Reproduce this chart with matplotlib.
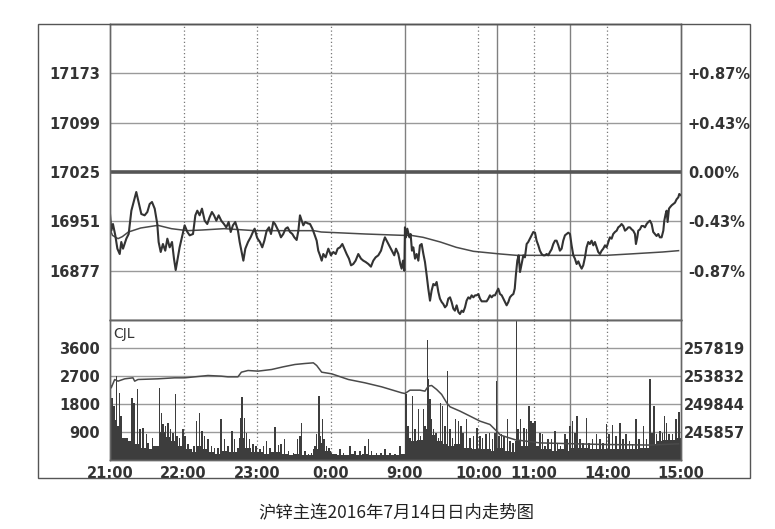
import numpy as np
import matplotlib.pyplot as plt
from matplotlib.patches import Rectangle

# time axis in trading minutes: night 21:00-01:00 (0-240), day 9:00-15:00 (240-465)
tick_pos = [0, 60, 120, 180, 240, 300, 345, 405, 465]
tick_labels = ["21:00", "22:00", "23:00", "0:00", "9:00", "10:00", "11:00", "14:00", "15:00"]
dotted_x = [60, 120, 180, 300, 345, 405]
solid_x = [240, 315, 375]

prev_close = 17025
price_ticks = [16877, 16951, 17025, 17099, 17173]
pct_labels = ["-0.87%", "-0.43%", "0.00%", "+0.43%", "+0.87%"]

# price line (minute, price)
price_min = [0, 1.1, 2.4, 4.3, 6.0, 7.9, 9.2, 10.6, 13.3, 15.2, 17.4, 19.5, 21.4, 23.3, 25.5,
             28.2, 30.4, 32.3, 34.2, 36.4, 38.5, 39.6, 41.3, 43.1, 45.0, 46.7, 48.6, 50.5, 52.1,
             53.5, 54.8, 56.7, 58.6, 60.8, 63.0, 64.9, 67.6, 69.5, 71.1, 73.0, 74.9, 77.1, 79.2,
             81.1, 83.0, 84.7, 86.6, 88.5, 90.6, 92.8, 94.7, 96.6, 98.3, 100.1, 102.0, 104.2,
             105.6, 107.5, 108.6, 110.2, 112.4, 114.5, 116.4, 117.8, 119.7,
             120.2, 122.1, 124.0, 125.7, 127.6, 129.5, 131.1, 133.0, 134.4, 135.7, 137.6, 139.2,
             141.1, 143.0, 144.7, 146.6, 148.5, 150.1, 152.0, 153.4, 154.7, 156.1, 157.4, 159.0,
             161.0, 162.9, 164.8, 166.4, 168.3, 169.6, 171.0, 172.4, 173.7, 175.6, 177.8, 179.9,
             181.9, 183.8, 185.4, 187.3, 189.2, 190.8, 192.7, 194.6, 196.3, 198.1, 200.0, 202.2,
             204.4, 206.3, 208.2, 210.4, 212.5, 214.4, 216.3, 218.5, 220.7, 222.6, 223.9, 225.3,
             227.2, 229.4, 231.5, 232.9, 234.8, 236.4, 237.5, 238.6, 239.7,
             240.2, 241.0, 242.1, 243.8, 244.8, 245.9, 247.0, 248.4, 249.7, 251.1, 252.4, 253.8,
             255.2, 256.5, 257.9, 259.2, 260.6, 261.9, 263.3, 264.7, 266.0, 267.4, 268.7, 270.1,
             271.4, 272.8, 274.2, 275.5, 276.9, 278.2, 279.6, 280.9, 282.3, 283.7, 285.0, 286.4,
             287.7, 289.1, 290.4, 291.8, 293.2, 294.5, 295.9, 297.3, 298.6, 300.0, 301.3, 302.7,
             304.0, 305.4, 306.7, 308.1, 309.4, 310.8, 312.2, 313.5, 314.9, 316.2, 317.6, 319.0,
             320.3, 321.7, 323.0, 324.4, 325.7, 327.1, 328.5, 329.6, 330.6, 331.7, 332.8, 333.9,
             335.2, 336.6, 337.9, 339.3, 340.6, 342.0, 343.4, 344.7, 346.1, 347.4, 348.8, 350.1,
             351.5, 352.9, 354.2, 355.6, 356.9, 358.3, 359.6, 361.0, 362.4, 363.7, 365.1, 366.4,
             367.8, 369.1, 370.5, 371.8, 373.2, 374.6, 375.9, 377.3, 378.6, 380.0, 381.4, 382.7,
             384.1, 385.4, 386.8, 388.1, 389.5, 390.8, 392.2, 393.6, 394.9, 396.3, 397.6, 399.0,
             400.4, 401.7, 403.1, 404.4, 405.8, 407.1, 408.5, 409.8, 411.2, 412.6, 413.9, 415.3,
             416.6, 418.0, 419.4, 420.7, 422.1, 423.4, 424.8, 426.1, 427.5, 428.3, 429.4, 430.2,
             431.6, 432.9, 434.3, 435.6, 437.0, 438.4, 439.7, 441.1, 442.4, 443.8, 445.1, 446.5,
             447.8, 449.2, 450.6, 451.4, 452.5, 453.3, 454.1, 455.2, 456.0, 457.4, 458.7, 460.1,
             461.4, 462.8, 463.6, 465.0]
price_val = [16962, 16937, 16947, 16930, 16910, 16902, 16920, 16910, 16925, 16932, 16967, 16982,
             16995, 16980, 16962, 16960, 16965, 16977, 16980, 16970, 16947, 16920, 16905, 16917,
             16907, 16925, 16912, 16920, 16895, 16878, 16892, 16912, 16927, 16945, 16935, 16930,
             16932, 16960, 16967, 16960, 16970, 16952, 16947, 16957, 16965, 16960, 16952, 16960,
             16952, 16947, 16942, 16950, 16935, 16945, 16950, 16937, 16920, 16902, 16892, 16910,
             16920, 16927, 16935, 16940, 16927,
             16925, 16920, 16912, 16922, 16937, 16942, 16932, 16950, 16947, 16942, 16935, 16927,
             16932, 16940, 16942, 16935, 16932, 16927, 16923, 16937, 16960, 16952, 16945, 16950,
             16948, 16947, 16940, 16932, 16922, 16907, 16900, 16892, 16902, 16897, 16910, 16900,
             16905, 16902, 16910, 16912, 16917, 16910, 16902, 16895, 16885, 16887, 16892, 16902,
             16895, 16892, 16890, 16887, 16883, 16892, 16897, 16900, 16907, 16920, 16927, 16922,
             16915, 16907, 16900, 16910, 16902, 16887, 16880, 16892, 16877,
             16942, 16927, 16940, 16927, 16932, 16907, 16912, 16895, 16902, 16892, 16915, 16917,
             16902, 16890, 16870, 16850, 16832, 16847, 16857, 16855, 16860, 16845, 16835, 16830,
             16827, 16822, 16825, 16835, 16837, 16830, 16820, 16817, 16825, 16815, 16812, 16817,
             16815, 16822, 16832, 16837, 16835, 16840, 16837, 16840, 16840, 16842, 16835, 16831,
             16831, 16831, 16831, 16835, 16840, 16837, 16840, 16840, 16845, 16850, 16842, 16840,
             16835, 16830, 16825, 16830, 16837, 16840, 16842, 16850, 16872, 16892, 16900, 16875,
             16887, 16900, 16897, 16917, 16920, 16925, 16930, 16935, 16934, 16922, 16915, 16907,
             16902, 16900, 16900, 16902, 16900, 16905, 16909, 16917, 16922, 16922, 16915, 16907,
             16910, 16922, 16930, 16932, 16934, 16932, 16915, 16900, 16895, 16887, 16891, 16885,
             16880, 16885, 16897, 16912, 16920, 16917, 16922, 16915, 16920, 16912, 16905, 16902,
             16907, 16910, 16915, 16912, 16920, 16927, 16925, 16932, 16935, 16937, 16942, 16944,
             16947, 16944, 16937, 16939, 16942, 16942, 16939, 16937, 16932, 16917, 16927, 16937,
             16939, 16944, 16944, 16942, 16947, 16950, 16952, 16947, 16935, 16932, 16929, 16932,
             16927, 16927, 16937, 16952, 16962, 16967, 16950, 16970, 16972, 16975, 16977, 16979,
             16984, 16987, 16992, 16990]

# average price line
avg_min = [0.5, 2, 6.5, 10, 15, 25, 39, 50, 63, 75, 93, 118, 150, 166, 172, 208, 238, 245,
           255, 269, 282, 296, 318, 331, 350, 404, 423, 450, 463]
avg_val = [16937, 16930, 16925, 16928, 16935, 16941, 16945, 16940, 16937, 16938, 16940, 16937,
           16937, 16937, 16935, 16932, 16930, 16930, 16927, 16920, 16912, 16906, 16902, 16900,
           16900, 16900, 16902, 16905, 16907]

# volume: 5-minute floor level of the dense bars
base_vol = [1300, 1100, 700, 600, 500, 400, 350, 450, 900, 750, 600, 450,
            350, 250, 450, 350, 250, 200, 300, 250, 250, 700, 400, 250,
            250, 200, 250, 250, 200, 150, 200, 150, 150, 350, 550, 300,
            200, 150, 150, 200, 150, 200, 150, 150, 150, 150, 150, 200,
            700, 600, 650, 1000, 800, 600, 500, 450, 500, 400, 400, 350,
            350, 350, 300, 400, 300, 250, 600, 450, 500, 450, 350, 350,
            300, 350, 300, 400, 400, 400, 350, 350, 350, 350, 350, 350,
            350, 350, 400, 400, 500, 600, 650, 650, 700]

# volume: individual bars (minute, volume)
bar_min = [0.5, 1.6, 3.3, 5.2, 7.9, 9.2, 17.9, 19.5, 22.3, 24.2, 26.9, 29.6, 31.0, 34.5, 40.4,
           41.8, 43.2, 45.1, 47.2, 49.4, 51.3, 53.2, 54.8, 56.7, 59.4, 61.3, 63.5, 66.2, 68.4,
           70.3, 73.0, 74.9, 77.1, 79.8, 82.5, 85.2, 87.9, 90.6, 93.4, 96.1, 99.3, 101.5, 104.2,
           106.4, 107.7, 109.6, 111.0, 113.7, 116.4, 119.1,
           122.2, 124.9, 127.6, 130.3, 134.4, 137.1, 139.3, 142.0, 145.2, 149.3, 152.8, 154.7,
           156.1, 158.8, 161.5, 164.2, 166.9, 168.3, 170.2, 171.5, 172.9, 174.5, 176.4, 178.3,
           180.5, 183.2, 187.3, 190.0, 195.4, 199.5, 203.6, 207.6, 210.4, 213.1, 217.1, 220.7,
           223.9, 228.0, 232.1, 236.1, 238.3,
           241.0, 242.9, 246.5, 248.4, 251.1, 253.0, 255.2, 256.5, 258.4, 259.5, 260.6, 261.9,
           263.3, 265.5, 267.4, 269.3, 270.9, 272.8, 275.0, 276.9, 279.0, 281.5, 283.7, 285.6,
           287.7, 290.4, 293.2, 295.9, 299.1, 301.3, 303.5, 306.2, 308.9, 311.6, 313.5, 314.9,
           316.8, 318.9, 320.8, 323.6, 325.7, 328.4, 331.2, 332.5, 334.4, 337.1, 339.3, 341.2,
           343.0, 344.7, 346.1, 347.4, 350.1, 352.3, 354.2, 356.9, 359.6, 362.4, 364.3, 367.0,
           370.5, 372.4, 374.6, 376.7, 378.6, 380.5, 382.7, 385.4, 388.1, 390.3, 393.0, 396.3,
           399.0, 401.7, 404.4, 406.6, 409.3, 412.0, 415.3, 418.0, 420.2, 422.9, 425.6, 428.3,
           431.0, 434.3, 437.0, 439.7, 441.3, 443.0, 445.1, 447.8, 450.0, 451.6, 453.3, 455.4,
           458.2, 460.9, 463.3]
bar_vol = [3391, 1999, 1731, 2695, 2160, 1410, 1999, 1838, 2288, 981, 1035, 821, 553, 714, 2320,
           1517, 1142, 1088, 1196, 981, 874, 2106, 767, 714, 981, 767, 499, 339, 446,
           1249, 1517, 928, 767, 660, 446, 392, 392, 1324, 660, 446, 928, 660, 392,
           1356, 2031, 1356, 874, 660, 499, 446,
           339, 446, 606, 392, 1067, 467, 499, 681, 285, 232, 660, 767,
           1174, 285, 178, 232, 446, 821, 2052, 767, 1303, 660, 446, 392,
           232, 178, 339, 232, 446, 285, 285, 446, 681, 285, 232, 232,
           360, 232, 178, 446, 178,
           2106, 1089, 2053, 982, 1624, 768, 1624, 1089, 3873, 2588, 1946, 1303,
           982, 875, 714, 1839, 1731, 1089, 2856, 982, 714, 1303, 1249, 1089,
           875, 1303, 714, 768, 1035, 768, 714, 821, 875, 660, 875, 2535,
           768, 821, 768, 1303, 607, 553, 4462, 982, 1303, 1035, 982, 1731,
           1249, 1196, 1249, 285, 874, 821, 446, 660, 660, 928, 553, 446,
           821, 660, 1088, 1249, 874, 1410, 660, 553, 1356, 553, 660, 821,
           660, 553, 1142, 821, 1110, 767, 1196, 660, 821, 606, 499, 1303,
           660, 1088, 660, 2609, 874, 1731, 821, 928, 874, 1410, 1196, 821,
           821, 1303, 1538]

# open interest line (right scale)
oi_min = [0, 1, 3.8, 6.5, 12, 18.7, 20.1, 22.8, 39, 52.6, 60.8, 69, 79.8, 90.6, 96, 104.2,
          107, 112.4, 120.5, 131.6, 141.1, 150.6, 158.8, 165.6, 168.3, 172.4, 180.5, 194.1,
          207.6, 221.2, 237.5, 240.2, 244.3, 252.4, 256.5, 259.2, 261.9, 266.0, 270.1, 274.2,
          276.9, 285.0, 293.2, 301.3, 309.4, 313.5, 318, 330, 350, 400, 440, 463]
oi_val = [252725, 252149, 253336, 253097, 253430, 253572, 253097, 253336, 253430, 253572,
          253572, 253714, 253904, 253811, 253714, 253714, 254377, 254617, 254524, 254759,
          255140, 255472, 255614, 255707, 255330, 254377, 254143, 253336, 252862, 252291,
          251436, 251343, 251817, 251817, 251675, 252388, 252481, 251914, 251201, 250013,
          249446, 248830, 248117, 247404, 246930, 246221, 245414, 244750, 244307, 244085,
          243997, 244174]
vol_ticks = [900, 1800, 2700, 3600]
oi_ticks = [245857, 249844, 253832, 257819]

W, H = 775, 529
fig = plt.figure(figsize=(W / 100, H / 100), dpi=100)
fig.patch.set_facecolor("white")

L, R = 110 / W, 681 / W
ax = fig.add_axes([L, 1 - 320 / H, R - L, (320 - 24) / H])
axv = fig.add_axes([L, 1 - 460 / H, R - L, (460 - 320) / H])

tick_font = dict(fontsize=10.5, fontweight="bold", color="#333333", family="DejaVu Sans")
grid_c = "#9a9a9a"

# ---- price panel
span = 3 * 74
ax.set_xlim(0, 465)
ax.set_ylim(prev_close - span, prev_close + span)
for v in price_ticks:
    if v == prev_close:
        ax.axhline(v, color="#555555", lw=2.6, zorder=2)
    else:
        ax.axhline(v, color=grid_c, lw=1.0, zorder=1)
ax.plot(avg_min, avg_val, color="#4a4a4a", lw=1.1, zorder=3)
ax.plot(price_min, price_val, color="#333333", lw=1.5, zorder=4)
ax.set_yticks(price_ticks)
ax.set_yticklabels([str(v) for v in price_ticks], **tick_font)
ax.tick_params(axis="y", length=0, pad=7)
ax.set_xticks([])
axr = ax.twinx()
axr.set_ylim(ax.get_ylim())
axr.set_yticks(price_ticks)
axr.set_yticklabels(pct_labels, **tick_font)
axr.tick_params(axis="y", length=0, pad=5)

# ---- volume panel
axv.set_xlim(0, 465)
axv.set_ylim(0, 4500)
for v in vol_ticks:
    axv.axhline(v, color=grid_c, lw=1.0, zorder=1)
axv.bar(np.arange(len(base_vol)) * 5, base_vol, width=5, align="edge",
        color="#3d3d3d", lw=0, zorder=2)
axv.bar(bar_min, bar_vol, width=1.3, color="#3d3d3d", lw=0, zorder=2)
axv.set_yticks(vol_ticks)
axv.set_yticklabels([str(v) for v in vol_ticks], **tick_font)
axv.tick_params(axis="y", length=0, pad=7)
axv.set_xticks(tick_pos)
axv.set_xticklabels(tick_labels, **tick_font)
axv.tick_params(axis="x", length=0, pad=4)
axv.text(0.006, 0.95, "CJL", transform=axv.transAxes, fontsize=10, color="#333333",
         va="top", ha="left")
oi_lo = 241870
oi_hi = oi_lo + 4500 * (3987.5 / 900)
axo = axv.twinx()
axo.set_ylim(oi_lo, oi_hi)
axo.plot(oi_min, oi_val, color="#4a4a4a", lw=1.1)
axo.set_yticks(oi_ticks)
axo.set_yticklabels([str(v) for v in oi_ticks], **tick_font)
axo.tick_params(axis="y", length=0, pad=2)

# vertical time grid on both panels
for a in (ax, axv):
    for x in dotted_x:
        a.axvline(x, color="#777777", lw=0.9, ls=(0, (1, 2)), zorder=1)
    for x in solid_x:
        a.axvline(x, color="#808080", lw=1.0, zorder=1)

for a in (ax, axr, axv, axo):
    for s in a.spines.values():
        s.set_color("#666666")
        s.set_linewidth(1.0)

# outer frame
fig.patches.append(Rectangle((38 / W, 1 - 478 / H), (750 - 38) / W, (478 - 24) / H,
                             transform=fig.transFigure, fill=False, ec="#555555", lw=1.0))

fig.text(396 / W, 1 - 512 / H, "沪锌主连2016年7月14日日内走势图", ha="center", va="center",
         fontsize=12.5, color="#222222", family=["Noto Sans CJK SC", "DejaVu Sans"])

fig.savefig("out.png", dpi=100, facecolor="white")
